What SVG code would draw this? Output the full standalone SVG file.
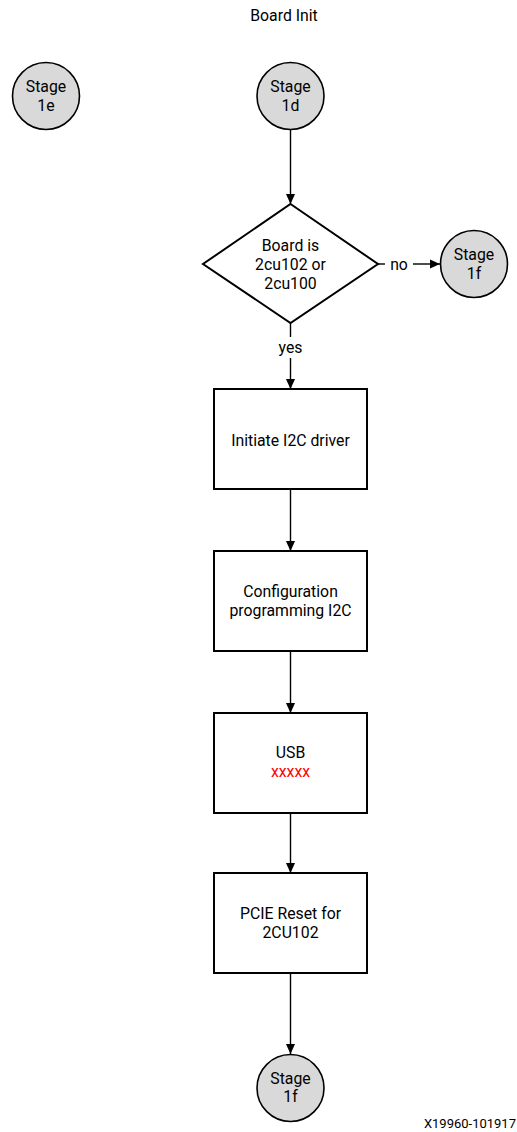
<svg xmlns="http://www.w3.org/2000/svg" width="517" height="1132" viewBox="0 0 517 1132">
<style>
text{font-family:Roboto,"Liberation Sans",sans-serif;font-size:15.8px;fill:#000;text-anchor:middle}
.stage{fill:#d9d9d9;stroke:#000;stroke-width:1.6}
.box{fill:#fff;stroke:#000;stroke-width:2}
.ln{fill:none;stroke:#000;stroke-width:1.4}
.red{fill:#ff0000}
.ft{font-size:13px;text-anchor:end}
</style>
<defs>
<marker id="ah" markerWidth="10" markerHeight="11" refX="11" refY="5" orient="auto" markerUnits="userSpaceOnUse" viewBox="0 0 11 10">
<path d="M0,0 L11,5 L0,10 Z" fill="#000"/>
</marker>
</defs>
<text x="284" y="21">Board Init</text>
<g id="stage1e">
<circle class="stage" cx="46" cy="96" r="33.5"/>
<text x="46" y="91.5">Stage</text>
<text x="46" y="110.5">1e</text>
</g>
<g id="stage1d">
<circle class="stage" cx="290.5" cy="96" r="33.5"/>
<text x="290.5" y="91.5">Stage</text>
<text x="290.5" y="110.5">1d</text>
</g>
<g id="decision">
<polygon class="box" points="290.5,204 378,264 290.5,323 203,264"/>
<text x="290.5" y="250.5">Board is</text>
<text x="290.5" y="269.5">2cu102 or</text>
<text x="290.5" y="288.5">2cu100</text>
</g>
<g id="stage1f-right">
<circle class="stage" cx="474" cy="264" r="33.5"/>
<text x="474" y="259.5">Stage</text>
<text x="474" y="278.5">1f</text>
</g>
<g id="box-i2c">
<rect class="box" x="214" y="389" width="153" height="100"/>
<text x="290.5" y="445.5">Initiate I2C driver</text>
</g>
<g id="box-config">
<rect class="box" x="214" y="551" width="153" height="100"/>
<text x="290.5" y="596.5">Configuration</text>
<text x="290.5" y="615.5">programming I2C</text>
</g>
<g id="box-usb">
<rect class="box" x="214" y="713" width="153" height="100"/>
<text x="290.5" y="757.5">USB</text>
<text class="red" x="290.5" y="777">xxxxx</text>
</g>
<g id="box-pcie">
<rect class="box" x="214" y="873" width="153" height="100"/>
<text x="290.5" y="918.5">PCIE Reset for</text>
<text x="290.5" y="937.5">2CU102</text>
</g>
<g id="stage1f-bottom">
<circle class="stage" cx="290.5" cy="1088" r="33.5"/>
<text x="290.5" y="1083.5">Stage</text>
<text x="290.5" y="1102">1f</text>
</g>
<g id="connectors">
<line class="ln" x1="290.5" y1="130" x2="290.5" y2="204" marker-end="url(#ah)"/>
<line class="ln" x1="378" y1="264" x2="385" y2="264"/>
<text x="399" y="269.5">no</text>
<line class="ln" x1="413" y1="264" x2="440" y2="264" marker-end="url(#ah)"/>
<line class="ln" x1="290.5" y1="323" x2="290.5" y2="337"/>
<text x="290.5" y="352.5">yes</text>
<line class="ln" x1="290.5" y1="358" x2="290.5" y2="389" marker-end="url(#ah)"/>
<line class="ln" x1="290.5" y1="489" x2="290.5" y2="551" marker-end="url(#ah)"/>
<line class="ln" x1="290.5" y1="651" x2="290.5" y2="713" marker-end="url(#ah)"/>
<line class="ln" x1="290.5" y1="813" x2="290.5" y2="873" marker-end="url(#ah)"/>
<line class="ln" x1="290.5" y1="973" x2="290.5" y2="1054" marker-end="url(#ah)"/>
</g>
<text class="ft" x="516" y="1127.5">X19960-101917</text>
</svg>
